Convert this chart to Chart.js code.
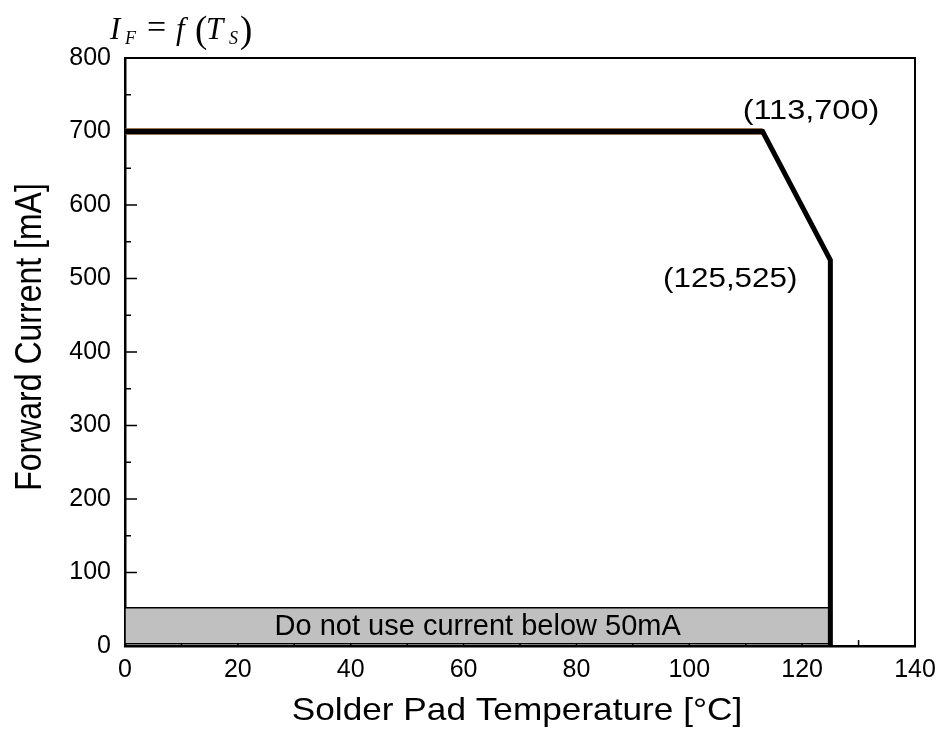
<!DOCTYPE html>
<html>
<head>
<meta charset="utf-8">
<script src="https://cdn.jsdelivr.net/npm/chart.js@4/dist/chart.umd.min.js"></script>
<style>
  html, body { margin: 0; padding: 0; background: #fff; }
  #wrap { width: 941px; height: 751px; }
</style>
</head>
<body>
<div id="wrap"><canvas id="chart" width="941" height="751"></canvas></div>
<script>
// Derating curve
const tempC     = [0, 113, 125, 125];
const currentMA = [700, 700, 525, 0];

// thin brown trace that shows under the flat part
const ratedTemp    = [0, 113];
const ratedCurrent = [700, 700];

// grey "do not use" band
const bandTemp    = [0, 0, 125, 125, 0];
const bandCurrent = [3, 52, 52, 3, 3];
const bandText = 'Do not use current below 50mA';

// axis ticks
const xTicks = [0, 20, 40, 60, 80, 100, 120, 140];
const yTicks = [0, 100, 200, 300, 400, 500, 600, 700, 800];

// corner labels
const cornerT = [113, 125];
const cornerI = [700, 525];
const cornerLabels = ['(113,700)', '(125,525)'];

const SANS = '"Liberation Sans", Arial, sans-serif';
const SERIF = '"Liberation Serif", "Times New Roman", serif';

function pts(xs, ys) {
  return xs.map((x, i) => ({ x: x, y: ys[i] }));
}

// draw a bit of text, optionally stretched
function txt(ctx, s, x, y, size, o) {
  o = o || {};
  ctx.save();
  ctx.font = (o.italic ? 'italic ' : '') + size + 'px ' + (o.family || SANS);
  ctx.fillStyle = '#000';
  ctx.textAlign = o.align || 'left';
  ctx.textBaseline = o.baseline || 'alphabetic';
  ctx.translate(x, y);
  if (o.rotate) ctx.rotate(o.rotate);
  ctx.scale(o.sx || 1, o.sy || 1);
  ctx.fillText(s, 0, 0);
  ctx.restore();
}

// inward ticks + top/right frame
const frame = {
  id: 'frame',
  beforeDatasetsDraw(chart) {
    const { ctx, chartArea: a, scales: { x, y } } = chart;
    ctx.save();
    ctx.strokeStyle = '#000';
    ctx.lineWidth = 2;
    ctx.beginPath();
    ctx.moveTo(a.left, a.top); ctx.lineTo(a.right, a.top); ctx.lineTo(a.right, a.bottom);
    ctx.stroke();

    ctx.lineWidth = 1.5;
    ctx.beginPath();
    for (let i = 0; i < xTicks.length; i++) {
      const px = x.getPixelForValue(xTicks[i]);
      ctx.moveTo(px, a.bottom); ctx.lineTo(px, a.bottom - 6);
      if (i < xTicks.length - 1) {
        const mx = x.getPixelForValue((xTicks[i] + xTicks[i + 1]) / 2);
        ctx.moveTo(mx, a.bottom); ctx.lineTo(mx, a.bottom - 6);
      }
    }
    for (let i = 0; i < yTicks.length; i++) {
      const py = y.getPixelForValue(yTicks[i]);
      ctx.moveTo(a.left, py); ctx.lineTo(a.left + 12, py);
      if (i < yTicks.length - 1) {
        const my = y.getPixelForValue((yTicks[i] + yTicks[i + 1]) / 2);
        ctx.moveTo(a.left, my); ctx.lineTo(a.left + 6, my);
      }
    }
    ctx.stroke();
    ctx.restore();
  },
  afterDraw(chart) {
    const { ctx, chartArea: a, scales: { x, y } } = chart;

    // band text
    const bx = (x.getPixelForValue(bandTemp[0]) + x.getPixelForValue(bandTemp[2])) / 2;
    const by = (y.getPixelForValue(bandCurrent[0]) + y.getPixelForValue(bandCurrent[1])) / 2;
    txt(ctx, bandText, bx, by + 1, 29, { align: 'center', baseline: 'middle' });

    // corner labels
    let px = x.getPixelForValue(cornerT[0]), py = y.getPixelForValue(cornerI[0]);
    txt(ctx, cornerLabels[0], px - 20, py - 13, 28, { sx: 1.16 });
    px = x.getPixelForValue(cornerT[1]); py = y.getPixelForValue(cornerI[1]);
    txt(ctx, cornerLabels[1], px - 33, py + 27, 28, { sx: 1.12, align: 'right' });

    // axis titles
    txt(ctx, 'Forward Current [mA]', 41, 337, 32, { rotate: -Math.PI / 2, align: 'center', sy: 1.15 });
    txt(ctx, 'Solder Pad Temperature [\u00b0C]', (a.left + a.right) / 2 - 3, 720, 32, { align: 'center', sx: 1.1 });

    // formula I_F = f(T_S)
    txt(ctx, 'I', 110, 39, 31, { family: SERIF, italic: true });
    txt(ctx, 'F', 125, 44, 18, { family: SERIF, italic: true });
    txt(ctx, '=', 147, 38, 34, { family: SERIF });
    txt(ctx, 'f', 176, 39, 31, { family: SERIF, italic: true });
    txt(ctx, '(', 195, 42, 37, { family: SERIF });
    txt(ctx, 'T', 206, 39, 31, { family: SERIF, italic: true });
    txt(ctx, 'S', 229, 44, 18, { family: SERIF, italic: true });
    txt(ctx, ')', 240, 42, 37, { family: SERIF });
  }
};

new Chart(document.getElementById('chart').getContext('2d'), {
  type: 'scatter',
  data: {
    datasets: [
      {
        data: pts(tempC, currentMA),
        showLine: true,
        borderColor: '#000',
        borderWidth: 5,
        pointRadius: 0,
        tension: 0,
        order: 0
      },
      {
        data: pts(ratedTemp, ratedCurrent),
        showLine: true,
        borderColor: '#7a4a1e',
        borderWidth: 6.5,
        pointRadius: 0,
        order: 1
      },
      {
        data: pts(bandTemp, bandCurrent),
        showLine: true,
        fill: 'shape',
        backgroundColor: '#c0c0c0',
        borderColor: '#000',
        borderWidth: 1.5,
        pointRadius: 0,
        tension: 0,
        order: 2
      }
    ]
  },
  options: {
    responsive: false,
    animation: false,
    layout: { padding: { left: 0, top: 58, right: 26, bottom: 0 } },
    plugins: { legend: { display: false }, tooltip: { enabled: false } },
    scales: {
      x: {
        type: 'linear',
        min: 0, max: 140,
        afterBuildTicks: s => { s.ticks = xTicks.map(v => ({ value: v })); },
        afterFit: s => { s.height = 105; s.paddingLeft = 0; s.paddingRight = 0; },
        grid: { display: false, drawTicks: false },
        border: { display: true, color: '#000', width: 2.5 },
        ticks: { color: '#000', padding: 9, maxRotation: 0, font: { family: SANS, size: 25 } }
      },
      y: {
        type: 'linear',
        min: 0, max: 800,
        afterBuildTicks: s => { s.ticks = yTicks.map(v => ({ value: v })); },
        afterFit: s => { s.width = 125; s.paddingTop = 0; s.paddingBottom = 0; },
        grid: { display: false, drawTicks: false },
        border: { display: true, color: '#000', width: 2.5 },
        ticks: { color: '#000', padding: 14, font: { family: SANS, size: 25 } }
      }
    }
  },
  plugins: [frame]
});
</script>
</body>
</html>
